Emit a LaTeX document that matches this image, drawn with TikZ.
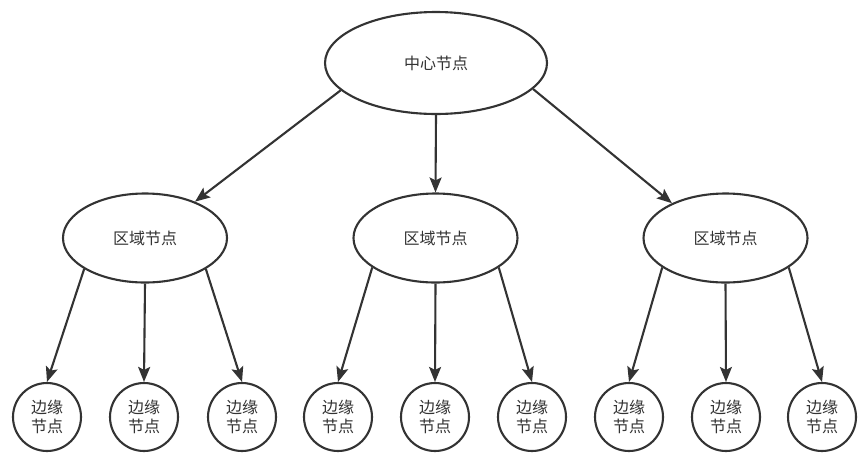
\documentclass[tikz,border=0pt]{standalone}
\usepackage{fontspec}
\setmainfont{Noto Sans CJK SC}
\usetikzlibrary{shapes.geometric,arrows.meta}
\definecolor{ink}{HTML}{333333}
\tikzset{
  every node/.style={font=\fontsize{16}{19.5}\selectfont, text=ink},
  centre/.style={ellipse, draw=ink, line width=2.1pt, fill=white, minimum width=222pt, minimum height=102pt, inner sep=0pt},
  region/.style={ellipse, draw=ink, line width=2.1pt, fill=white, minimum width=164pt, minimum height=89pt, inner sep=0pt},
  leaf/.style={circle, draw=ink, line width=2.1pt, fill=white, minimum size=68pt, inner sep=0pt, align=center},
  link/.style={draw=ink, line width=2.1pt, -{Stealth[length=15pt,width=12pt,inset=3pt]}}
}
\begin{document}
\begin{tikzpicture}[x=1pt,y=-1pt]
\useasboundingbox (0,0) rectangle (866,469);
\node[centre] (c) at (436,63) {中心节点};
\node[region] (r1) at (145,238) {区域节点};
\node[region] (r2) at (435.5,238) {区域节点};
\node[region] (r3) at (725.5,238) {区域节点};
\node[leaf] (l1) at (47,417) {边缘\\节点};
\node[leaf] (l2) at (144,417) {边缘\\节点};
\node[leaf] (l3) at (242,417) {边缘\\节点};
\node[leaf] (l4) at (338,417) {边缘\\节点};
\node[leaf] (l5) at (435,417) {边缘\\节点};
\node[leaf] (l6) at (532,417) {边缘\\节点};
\node[leaf] (l7) at (629,417) {边缘\\节点};
\node[leaf] (l8) at (726,417) {边缘\\节点};
\node[leaf] (l9) at (822,417) {边缘\\节点};
\draw[link] (c.196) -- (r1.36);
\draw[link] (c.south) -- (r2.north);
\draw[link] (c.345) -- (r3.147);
\draw[link] (r1.207) -- (l1.north);
\draw[link] (r1.south) -- (l2.north);
\draw[link] (r1.333) -- (l3.north);
\draw[link] (r2.205) -- (l4.north);
\draw[link] (r2.south) -- (l5.north);
\draw[link] (r2.335) -- (l6.north);
\draw[link] (r3.205) -- (l7.north);
\draw[link] (r3.south) -- (l8.north);
\draw[link] (r3.335) -- (l9.north);
\end{tikzpicture}
\end{document}
